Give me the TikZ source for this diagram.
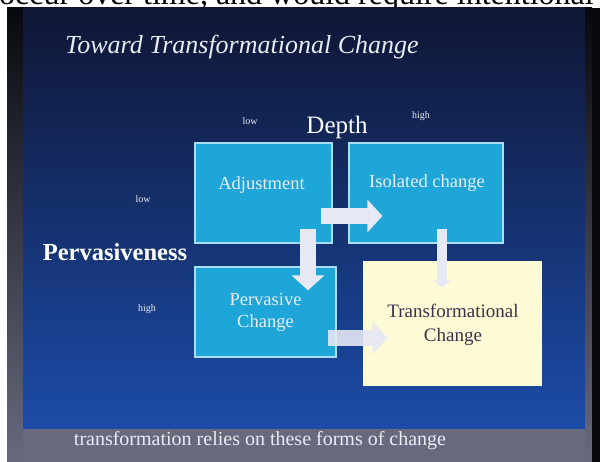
\documentclass[tikz,border=0pt]{standalone}
\usepackage{fontspec}
\setmainfont{Liberation Serif}
\usetikzlibrary{arrows.meta,calc}
\definecolor{navy}{HTML}{0F1634}
\definecolor{midblue}{HTML}{1B44A0}
\definecolor{lowblue}{HTML}{1C4CA8}
\definecolor{slidegray}{HTML}{676A7D}
\definecolor{edgedark}{HTML}{08080F}
\definecolor{cyanfill}{HTML}{1EA6D8}
\definecolor{cyanedge}{HTML}{A8DDF2}
\definecolor{paleyellow}{HTML}{FDFAD6}
\definecolor{arrowc}{HTML}{E6E8F4}
\definecolor{softwhite}{HTML}{E8ECF2}
\definecolor{darklabel}{HTML}{3A3248}
\tikzset{
  cbox/.style={draw=cyanedge, line width=1.2pt, fill=cyanfill, inner sep=0pt},
  ybox/.style={draw=paleyellow, line width=1pt, fill=paleyellow, inner sep=0pt},
  boxlabel/.style={text=softwhite, font=\fontsize{18.5}{22}\selectfont, align=center, inner sep=0pt},
  tlabel/.style={text=darklabel, font=\fontsize{19}{24}\selectfont, align=center, inner sep=0pt},
  small/.style={text=softwhite, font=\fontsize{10}{10}\selectfont, inner sep=0pt},
  barrow/.style={draw=arrowc, line width=16pt, -{Triangle[width=32pt,length=15pt]}},
  thinarrow/.style={draw=arrowc, line width=10pt, -{Triangle[width=16pt,length=7pt]}}
}
\begin{document}
\begin{tikzpicture}[x=1pt,y=-1pt]
\useasboundingbox (0,0) rectangle (600,462);
\clip (0,0) rectangle (600,462);
\fill[white] (0,0) rectangle (600,462);
\node[anchor=base west, font=\fontsize{32}{32}\selectfont, inner sep=0pt] (cut) at (-1,5) {occur over time, and would require intentional};
% slide
\fill[slidegray] (7,8) rectangle (600,462);
\shade[top color=edgedark, bottom color=slidegray] (7,8) rectangle (23,462);
\shade[top color=navy, middle color=midblue, bottom color=lowblue] (23,8) rectangle (585,428);
\shade[top color=edgedark, bottom color=slidegray] (585,8) rectangle (592,462);
\fill[edgedark] (592,8) rectangle (600,462);
% titles
\node[anchor=west, text=softwhite, font=\itshape\fontsize{26}{26}\selectfont, inner sep=0pt] (title) at (65,47) {Toward Transformational Change};
\node[text=white, font=\fontsize{25}{25}\selectfont, inner sep=0pt] (depth) at (337,127) {Depth};
\node[small] (dlow) at (250,121) {low};
\node[small] (dhigh) at (421,116) {high};
\node[small] (plow) at (143,199) {low};
\node[small] (phigh) at (147,309) {high};
\node[text=white, font=\bfseries\fontsize{24.5}{24}\selectfont, inner sep=0pt] (perv-axis) at (115,252) {Pervasiveness};
% boxes
\node[cbox, minimum width=137pt, minimum height=100pt] (adj) at (263.5,193) {};
\node[cbox, minimum width=154pt, minimum height=100pt] (iso) at (426,193) {};
\node[cbox, minimum width=141pt, minimum height=90pt] (perv) at (265.5,312) {};
\node[ybox, minimum width=178pt, minimum height=124pt] (trans) at (452,324) {};
% box labels
\node[boxlabel] (adjl) at ($(adj.center)+(-2,-8)$) {Adjustment};
\node[boxlabel] (isol) at ($(iso.center)+(1,-10)$) {Isolated change};
\node[boxlabel] (pervl) at ($(perv.center)+(0,0)$) {Pervasive\\Change};
\node[tlabel] (transl) at ($(trans.center)+(1,1)$) {Transformational\\Change};
% arrows
\draw[barrow] ($(adj.east)+(-12,23)$) -- ($(iso.west)+(34,23)$);
\draw[barrow] ($(adj.south)+(44.5,-15)$) -- ($(perv.north)+(42.5,24)$);
\draw[barrow, draw opacity=0.9] ($(perv.east)+(-9,26)$) -- ($(trans.west)+(25,14)$);
\draw[thinarrow] ($(iso.south)+(16,-15)$) -- ($(trans.north)+(-10,26)$);
% footer
\node[text=softwhite, font=\fontsize{20}{20}\selectfont, inner sep=0pt] (foot) at (260,441) {transformation relies on these forms of change};
\end{tikzpicture}
\end{document}
